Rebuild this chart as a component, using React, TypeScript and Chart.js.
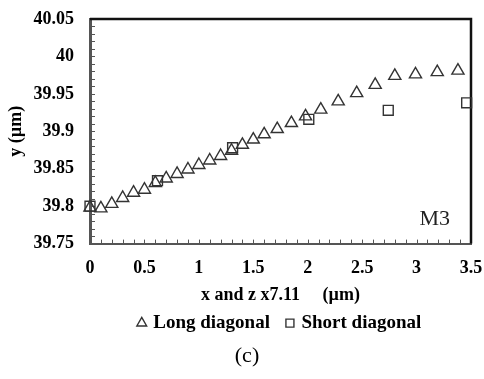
import React, { useEffect, useRef } from "react";
import { Chart, registerables } from "chart.js";

Chart.register(...registerables);

// ---- data ----
const longX = [0, 0.1, 0.2, 0.3, 0.4, 0.5, 0.6, 0.7, 0.8, 0.9, 1.0, 1.1, 1.2, 1.3, 1.4, 1.5, 1.6, 1.72, 1.85, 1.98, 2.12, 2.28, 2.45, 2.62, 2.8, 2.99, 3.19, 3.38];
const longY = [39.798, 39.797, 39.803, 39.811, 39.818, 39.822, 39.831, 39.837, 39.843, 39.849, 39.855, 39.861, 39.867, 39.874, 39.882, 39.889, 39.896, 39.903, 39.911, 39.92, 39.929, 39.94, 39.951, 39.962, 39.974, 39.976, 39.979, 39.981];
const shortX = [0, 0.62, 1.31, 2.01, 2.74, 3.46];
const shortY = [39.8, 39.834, 39.878, 39.916, 39.928, 39.938];

const xTicks = [0, 0.5, 1, 1.5, 2, 2.5, 3, 3.5];
const yTicks = [39.75, 39.8, 39.85, 39.9, 39.95, 40, 40.05];
const xMinorCount = 35; // minor ticks every 0.1
const yMinorCount = 30; // minor ticks every 0.01

const seriesNames = ["Long diagonal", "Short diagonal"];
const xTitle = "x and z x7.11     (\u00b5m)";
const yTitle = "y (\u00b5m)";
const panelLabel = "M3";
const caption = "(c)";

const SERIF = "'Liberation Serif', 'Times New Roman', serif";

const framePlugin = {
  id: "frame",
  beforeDatasetsDraw(chart: any) {
    const { ctx, chartArea } = chart;
    const xs = chart.scales.x;
    const ys = chart.scales.y;
    ctx.save();
    // top and right frame
    ctx.strokeStyle = "#111";
    ctx.lineWidth = 2.5;
    ctx.beginPath();
    ctx.moveTo(chartArea.left, chartArea.top);
    ctx.lineTo(chartArea.right, chartArea.top);
    ctx.lineTo(chartArea.right, chartArea.bottom);
    ctx.stroke();
    // inside minor ticks
    ctx.strokeStyle = "#555";
    ctx.lineWidth = 1;
    ctx.beginPath();
    const xMin = xTicks[0];
    const xMax = xTicks[xTicks.length - 1];
    for (let i = 1; i < xMinorCount; i++) {
      const v = xMin + ((xMax - xMin) * i) / xMinorCount;
      const px = Math.round(xs.getPixelForValue(v)) + 0.5;
      ctx.moveTo(px, chartArea.bottom);
      ctx.lineTo(px, chartArea.bottom - 4);
    }
    const yMin = yTicks[0];
    const yMax = yTicks[yTicks.length - 1];
    for (let i = 1; i < yMinorCount; i++) {
      const v = yMin + ((yMax - yMin) * i) / yMinorCount;
      const py = Math.round(ys.getPixelForValue(v)) + 0.5;
      ctx.moveTo(chartArea.left, py);
      ctx.lineTo(chartArea.left + 5, py);
    }
    ctx.stroke();
    // panel label
    ctx.fillStyle = "#222";
    ctx.font = `22px ${SERIF}`;
    ctx.textAlign = "right";
    ctx.textBaseline = "alphabetic";
    ctx.fillText(panelLabel, chartArea.right - 21, chartArea.bottom - 19);
    ctx.restore();
  },
};

export default function App() {
  const ref = useRef<HTMLCanvasElement | null>(null);
  useEffect(() => {
    if (!ref.current) return;
    const chart = new Chart(ref.current, {
      type: "scatter",
      data: {
        datasets: [
          {
            label: seriesNames[0],
            data: longX.map((x, i) => ({ x, y: longY[i] })),
            pointStyle: "triangle",
            pointRadius: 7,
            pointHoverRadius: 7,
            borderColor: "#333",
            backgroundColor: "rgba(0,0,0,0)",
            pointBorderWidth: 1.4,
            borderWidth: 1.4,
            clip: false,
          } as any,
          {
            label: seriesNames[1],
            data: shortX.map((x, i) => ({ x, y: shortY[i] })),
            pointStyle: "rect",
            pointRadius: 7,
            pointHoverRadius: 7,
            borderColor: "#333",
            backgroundColor: "rgba(0,0,0,0)",
            pointBorderWidth: 1.4,
            borderWidth: 1.4,
            clip: false,
          } as any,
        ],
      },
      options: {
        animation: false,
        responsive: false,
        devicePixelRatio: 1,
        layout: { padding: { left: 10, right: 0, top: 19, bottom: 10 } },
        scales: {
          x: {
            type: "linear",
            min: xTicks[0],
            max: xTicks[xTicks.length - 1],
            afterBuildTicks: (s: any) => {
              s.ticks = xTicks.map((v) => ({ value: v }));
            },
            afterFit: (s: any) => {
              s.height = 52;
              s.paddingLeft = 0;
              s.paddingRight = 13;
            },
            grid: { display: false, drawTicks: false },
            border: { display: true, color: "#555", width: 2 },
            ticks: {
              padding: 14,
              color: "#000",
              font: { family: SERIF, size: 18, weight: "bold" },
              callback: (v: any) => String(v),
              maxRotation: 0,
            },
            title: {
              display: true,
              text: xTitle,
              color: "#000",
              font: { family: SERIF, size: 18, weight: "bold" },
              padding: { top: 0, bottom: -11 },
            },
          },
          y: {
            type: "linear",
            min: yTicks[0],
            max: yTicks[yTicks.length - 1],
            afterBuildTicks: (s: any) => {
              s.ticks = yTicks.map((v) => ({ value: v }));
            },
            afterFit: (s: any) => {
              s.width = 80;
              s.paddingTop = 19;
              s.paddingBottom = 0;
            },
            grid: { display: false, drawTicks: false },
            border: { display: true, color: "#555", width: 3 },
            ticks: {
              padding: 16,
              color: "#000",
              font: { family: SERIF, size: 18, weight: "bold" },
              callback: (v: any) => String(v),
            },
            title: {
              display: true,
              text: yTitle,
              color: "#000",
              font: { family: SERIF, size: 18, weight: "bold" },
              padding: { top: -4, bottom: 0 },
            },
          },
        },
        plugins: {
          legend: {
            display: true,
            position: "bottom",
            fullSize: false,
            labels: {
              usePointStyle: true,
              boxWidth: 4,
              boxHeight: 8,
              padding: 18,
              color: "#000",
              font: { family: SERIF, size: 19, weight: "bold" },
            },
          },
          title: {
            display: true,
            position: "bottom",
            text: caption,
            color: "#000",
            font: { family: SERIF, size: 22, weight: "normal" },
            padding: { top: 0, bottom: 0 },
          },
          tooltip: { enabled: false },
        },
      },
      plugins: [framePlugin],
    } as any);
    return () => chart.destroy();
  }, []);
  return (
    <div style={{ position: "fixed", left: 0, top: 0, width: 484, height: 379, background: "#fff" }}>
      <canvas ref={ref} width={484} height={379} style={{ display: "block" }} />
    </div>
  );
}
